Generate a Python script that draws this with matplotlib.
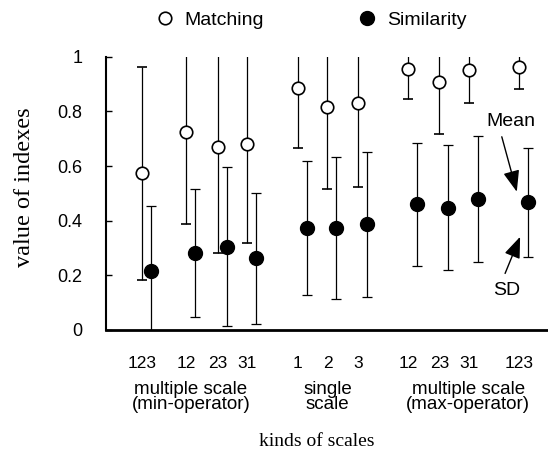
import matplotlib
matplotlib.use("Agg")
import matplotlib.pyplot as plt
from matplotlib.lines import Line2D

# ---- data ----
tick_labels = ["123", "12", "23", "31", "1", "2", "3", "12", "23", "31", "123"]
group_labels = ["multiple scale\n(min-operator)", "single\nscale", "multiple scale\n(max-operator)"]
matching_mean = [0.573, 0.723, 0.668, 0.681, 0.884, 0.817, 0.832, 0.954, 0.909, 0.951, 0.963]
matching_sd = [0.390, 0.336, 0.387, 0.364, 0.217, 0.302, 0.310, 0.110, 0.192, 0.122, 0.082]
similarity_mean = [0.215, 0.281, 0.305, 0.262, 0.372, 0.372, 0.387, 0.461, 0.448, 0.479, 0.467]
similarity_sd = [0.240, 0.235, 0.290, 0.240, 0.245, 0.260, 0.265, 0.225, 0.230, 0.230, 0.200]
y_ticks = [0, 0.2, 0.4, 0.6, 0.8, 1.0]
y_tick_labels = ["0", "0.2", "0.4", "0.6", "0.8", "1"]

# ---- layout ----
x_pos = [0, 1.48, 2.54, 3.50, 5.20, 6.19, 7.20, 8.89, 9.92, 10.91, 12.58]
sim_offset = 0.30
group_centers = [1.64, 6.19, 10.88]

SANS = ["Liberation Sans", "DejaVu Sans"]
SERIF = ["Liberation Serif", "DejaVu Serif"]

W, H = 548, 454
fig = plt.figure(figsize=(W / 100, H / 100), dpi=100)
ax = fig.add_axes([106 / W, 1 - 330 / H, 442 / W, 273.3 / H])

ax.errorbar(x_pos, matching_mean, yerr=matching_sd, fmt='o', mfc='white', mec='black',
            mew=1.2, ms=9, ecolor='black', elinewidth=0.9, capsize=3.6, capthick=0.9, zorder=3)
sim_x = [x + sim_offset for x in x_pos]
ax.errorbar(sim_x, similarity_mean, yerr=similarity_sd, fmt='o', mfc='black', mec='black',
            ms=10, ecolor='black', elinewidth=0.9, capsize=3.6, capthick=0.9, zorder=3)

ax.set_xlim(-1.19, 13.54)
ax.set_ylim(0, 1.0)
ax.spines['top'].set_visible(False)
ax.spines['right'].set_visible(False)
ax.spines['left'].set_linewidth(1.5)
ax.spines['bottom'].set_linewidth(2.0)

ax.set_xticks(x_pos)
ax.set_xticklabels(tick_labels, family=SANS, fontsize=12.5)
ax.tick_params(axis='x', length=0, pad=19)
ax.set_yticks(y_ticks)
ax.set_yticklabels(y_tick_labels, family=SANS, fontsize=13)
ax.tick_params(axis='y', direction='in', length=4, width=1, pad=17)

for gx, lab in zip(group_centers, group_labels):
    ax.text(gx, -0.245, lab, transform=ax.get_xaxis_transform(), ha='center', va='center',
            fontsize=13.5, family=SANS, linespacing=0.88)

fig.text(316.7 / W, 1 - 441 / H, "kinds of scales", ha='center', va='center',
         family=SERIF, fontsize=14)
fig.text(25 / W, 1 - 186.7 / H, "value of indexes", ha='center', va='center',
         rotation=90, family=SERIF, fontsize=17.5)

handles = [
    Line2D([], [], marker='o', ls='', mfc='white', mec='black', mew=1.2, ms=9, label='Matching'),
    Line2D([], [], marker='o', ls='', mfc='black', mec='black', ms=10, label='Similarity'),
]
fig.legend(handles=handles, loc='center', bbox_to_anchor=(0.569, 1 - 20 / H), ncol=2,
           frameon=False, prop={'family': SANS, 'size': 14}, handlelength=0.8,
           handletextpad=0.6, columnspacing=4.9, borderpad=0)

# annotations relative to last similarity point
lx, ly = sim_x[-1], similarity_mean[-1]
arrow = dict(arrowstyle='-|>,head_length=1.3,head_width=0.5', color='black', lw=1.0,
             shrinkA=0, shrinkB=0)
ax.text(lx - 0.58, ly + 0.295, "Mean", ha='center', va='center', family=SANS, fontsize=14)
ax.annotate('', xy=(lx - 0.38, ly + 0.039), xytext=(lx - 0.88, ly + 0.24), arrowprops=arrow,
            annotation_clip=False)
ax.text(lx - 0.71, ly - 0.321, "SD", ha='center', va='center', family=SANS, fontsize=14)
ax.annotate('', xy=(lx - 0.27, ly - 0.126), xytext=(lx - 0.77, ly - 0.26), arrowprops=arrow,
            annotation_clip=False)

fig.savefig("out.png", dpi=100)
